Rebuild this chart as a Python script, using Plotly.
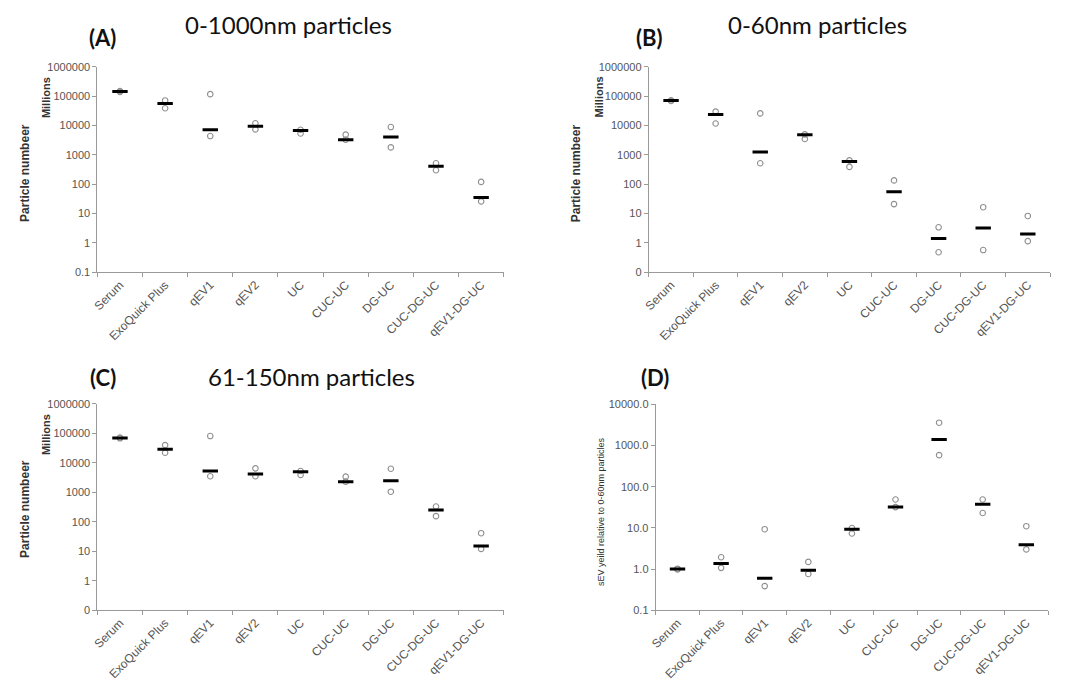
import plotly.graph_objects as go

categories = ["Serum", "ExoQuick Plus", "qEV1", "qEV2", "UC", "CUC-UC", "DG-UC", "CUC-DG-UC", "qEV1-DG-UC"]

# Panel A: 0-1000nm particles (millions)
a_median = [145000, 57000, 7200, 9500, 6800, 3300, 4100, 410, 35]
a_high = [150000, 72000, 118000, 12000, 7200, 4900, 8900, 520, 120]
a_low = [140000, 39000, 4400, 7400, 5400, 3300, 1800, 300, 26]

# Panel B: 0-60nm particles (millions)
b_median = [71000, 24000, 1250, 4900, 600, 55, 1.4, 3.2, 2.0]
b_high = [73000, 30000, 26000, 5000, 650, 135, 3.4, 16.5, 8.3]
b_low = [69000, 11800, 520, 3500, 390, 21, 0.48, 0.57, 1.15]

# Panel C: 61-150nm particles (millions)
c_median = [70000, 29000, 5300, 4200, 5000, 2300, 2450, 250, 15]
c_high = [72000, 40000, 81000, 6500, 5300, 3400, 6300, 330, 41]
c_low = [68000, 22000, 3500, 3500, 3900, 2300, 1050, 155, 12]

# Panel D: sEV yield relative to 0-60nm particles
d_median = [1.0, 1.36, 0.60, 0.94, 9.3, 32, 1410, 37.5, 3.9]
d_high = [1.02, 1.93, 9.3, 1.49, 9.9, 49, 3590, 49, 11]
d_low = [0.98, 1.07, 0.385, 0.76, 7.3, 32, 585, 23, 3.0]

count_tickvals = [0.1, 1, 10, 100, 1000, 10000, 100000, 1000000]
a_ticktext = ["0.1", "1", "10", "100", "1000", "10000", "100000", "1000000"]
bc_ticktext = ["0", "1", "10", "100", "1000", "10000", "100000", "1000000"]
d_tickvals = [0.1, 1, 10, 100, 1000, 10000]
d_ticktext = ["0.1", "1.0", "10.0", "100.0", "1000.0", "10000.0"]

W, H = 1065, 684

def fx(px):
    return px / W

def fy(py):
    return 1 - py / H

panels = [
    dict(med=a_median, hi=a_high, lo=a_low, xdom=[fx(91), fx(500)], ydom=[fy(271), fy(62)],
         tv=count_tickvals, tt=a_ticktext, yr=[-1, 6]),
    dict(med=b_median, hi=b_high, lo=b_low, xdom=[fx(646), fx(1050)], ydom=[fy(271), fy(62)],
         tv=count_tickvals, tt=bc_ticktext, yr=[-1, 6]),
    dict(med=c_median, hi=c_high, lo=c_low, xdom=[fx(91), fx(500)], ydom=[fy(615), fy(405)],
         tv=count_tickvals, tt=bc_ticktext, yr=[-1, 6]),
    dict(med=d_median, hi=d_high, lo=d_low, xdom=[fx(653), fx(1048)], ydom=[fy(615), fy(405.5)],
         tv=d_tickvals, tt=d_ticktext, yr=[-1, 4]),
]

fig = go.Figure()
axis_color = "#9a9a9a"
ytick_font = dict(family="Liberation Sans, Arial", size=11, color="#555555")
xtick_font = dict(family="Liberation Sans, Arial", size=12, color="#555555")

for i, p in enumerate(panels):
    n = "" if i == 0 else str(i + 1)
    xa, ya = "x" + n, "y" + n
    pts_x = categories * 2
    pts_y = list(p["lo"]) + list(p["hi"])
    fig.add_trace(go.Scatter(
        x=pts_x, y=pts_y, mode="markers", xaxis=xa, yaxis=ya, showlegend=False,
        marker=dict(symbol="circle-open", size=5.5, color="#8f8f8f", line=dict(width=1.1, color="#8f8f8f")),
    ))
    fig.add_trace(go.Scatter(
        x=categories, y=p["med"], mode="markers", xaxis=xa, yaxis=ya, showlegend=False,
        marker=dict(symbol="line-ew", size=11, color="black", line=dict(width=3, color="black")),
    ))
    fig.layout["xaxis" + n] = dict(
        domain=p["xdom"], anchor=ya, type="category", categoryorder="array",
        categoryarray=categories, range=[-0.5, 8.5], showline=True, linecolor=axis_color,
        linewidth=1, ticks="outside", tickson="boundaries", ticklen=4, tickcolor=axis_color,
        tickangle=-45, tickfont=dict(xtick_font), showgrid=False, zeroline=False, fixedrange=True,
    )
    fig.layout["yaxis" + n] = dict(
        domain=p["ydom"], anchor=xa, type="log", range=p["yr"], tickvals=p["tv"],
        ticktext=p["tt"], showline=True, linecolor=axis_color, linewidth=1, ticks="outside",
        ticklen=4, tickcolor=axis_color, tickfont=dict(ytick_font), showgrid=False, zeroline=False,
        fixedrange=True,
    )

ann = []
title_font = dict(family="Lato, Carlito, sans-serif", size=24, color="#111111")
letter_font = dict(family="Lato, sans-serif", size=22, color="#111111")
lab_font = dict(family="Liberation Sans, Arial", size=12, color="#333333")
mil_font = dict(family="Liberation Sans, Arial", size=11, color="#333333")

def add_text(text, x, y, font, angle=0):
    ann.append(dict(text=text, x=fx(x), y=fy(y), xref="paper", yref="paper",
                    showarrow=False, font=font, textangle=angle,
                    xanchor="center", yanchor="middle"))

add_text("0-1000nm particles", 283, 19, title_font)
add_text("0-60nm particles", 816, 19, title_font)
add_text("61-150nm particles", 307, 377, title_font)
add_text("<b>(A)</b>", 96, 32, letter_font)
add_text("<b>(B)</b>", 647, 32, letter_font)
add_text("<b>(C)</b>", 97, 378, letter_font)
add_text("<b>(D)</b>", 652, 378, letter_font)
add_text("<b>Particle numbeer</b>", 18, 170, lab_font, -90)
add_text("<b>Millions</b>", 40, 93, mil_font, -90)
add_text("<b>Particle numbeer</b>", 573, 170, lab_font, -90)
add_text("<b>Millions</b>", 596, 93, mil_font, -90)
add_text("<b>Particle numbeer</b>", 18, 512, lab_font, -90)
add_text("<b>Millions</b>", 40, 436, mil_font, -90)
add_text("sEV yeild relative to 0-60nm particles", 598, 515,
         dict(family="Liberation Sans, Arial", size=9, color="#333333"), -90)

fig.update_layout(
    width=W, height=H, margin=dict(l=0, r=0, t=0, b=0),
    paper_bgcolor="white", plot_bgcolor="white", annotations=ann, showlegend=False,
)

fig.write_html("out.html", config={"displayModeBar": False},
               post_script="document.body.style.margin='0';document.body.style.overflow='hidden';")
